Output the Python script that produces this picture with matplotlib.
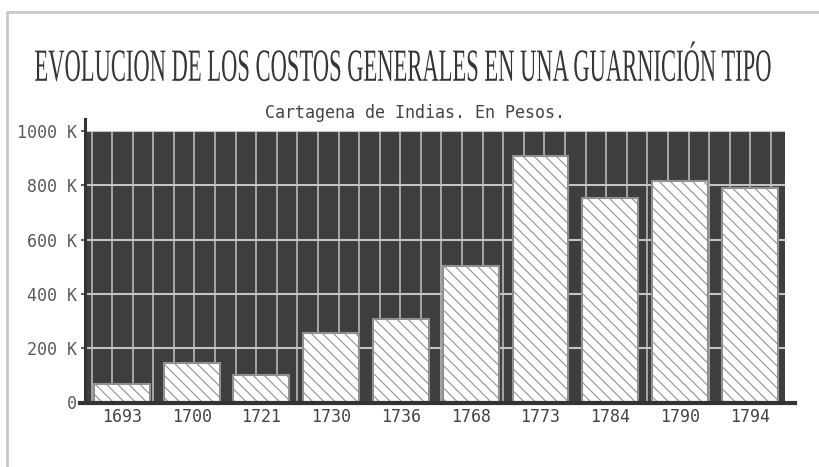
import numpy as np
import matplotlib
matplotlib.use("Agg")
import matplotlib.pyplot as plt
from matplotlib.lines import Line2D
from matplotlib.patheffects import AbstractPathEffect
from matplotlib.transforms import Affine2D

# Data (pesos, in thousands)
years = ["1693", "1700", "1721", "1730", "1736", "1768", "1773", "1784", "1790", "1794"]
costs = [68, 144, 101, 254, 305, 502, 908, 754, 815, 790]
yticks = [0, 200, 400, 600, 800, 1000]
ylabels = ["0", "200 K", "400 K", "600 K", "800 K", "1000 K"]

title = "EVOLUCION DE LOS COSTOS GENERALES EN UNA GUARNICIÓN TIPO"
subtitle = "Cartagena de Indias. En Pesos."


class Stretch(AbstractPathEffect):
    """scale text around a point (display pixels), to get the tall condensed look"""
    def __init__(self, sx, sy, cx, cy):
        super().__init__()
        self.sx, self.sy = sx, sy
        self.cx, self.cy = cx, cy

    def draw_path(self, renderer, gc, tpath, affine, rgbFace=None):
        t = (affine + Affine2D().translate(-self.cx, -self.cy)
             .scale(self.sx, self.sy).translate(self.cx, self.cy))
        renderer.draw_path(gc, tpath, t, rgbFace)


plt.rcParams["hatch.linewidth"] = 0.8
plt.rcParams["hatch.color"] = "#4a4a4a"

W, H = 820, 467
fig = plt.figure(figsize=(W / 100, H / 100), dpi=100)
ax = fig.add_axes([0.106, 0.139, 0.851, 0.58])
ax.set_facecolor("#3e3e3e")

x = np.arange(len(years))
ax.bar(x, costs, width=0.8, color="white", edgecolor="#909090",
       linewidth=1.5, hatch="\\\\\\", zorder=3)

ax.set_xlim(-0.5, len(years) - 0.5)
ax.set_ylim(0, 1000)

# grid: vertical white lines every ~20 px, horizontal every 200 K
for gx in np.arange(-0.434, len(years) - 0.5, 0.295):
    ax.axvline(gx, color="#b0b0b0", lw=1.3, zorder=1)
for gy in yticks[1:]:
    ax.axhline(gy, color="#c4c4c4", lw=1.5, zorder=2)

for s in ax.spines.values():
    s.set_visible(False)

ax.set_yticks(yticks)
ax.set_yticklabels(ylabels)
ax.set_xticks(x)
ax.set_xticklabels(years)
ax.tick_params(axis="y", length=4, width=1.2, color="#444444", pad=3,
               labelsize=12, labelcolor="#5a5a5a")
ax.tick_params(axis="x", length=0, pad=4, labelsize=12, labelcolor="#444444")
for lab in ax.get_xticklabels() + ax.get_yticklabels():
    lab.set_family("DejaVu Sans Mono")

# axis lines like the original
ax.add_line(Line2D([-0.003, -0.003], [0, 1.045], transform=ax.transAxes,
                   color="#333333", lw=2.2, clip_on=False, zorder=5))
ax.add_line(Line2D([-0.01, 1.015], [-0.005, -0.005], transform=ax.transAxes,
                   color="#333333", lw=3, clip_on=False, zorder=5))

# titles
tx, ty = 0.492, 0.85
fig.text(tx, ty, title, ha="center", va="center", fontsize=17,
         family="Liberation Serif", color="#353535",
         path_effects=[Stretch(0.955, 1.95, tx * W, ty * H)])
fig.text(0.506, 0.757, subtitle, ha="center", va="center", fontsize=12,
         family="DejaVu Sans Mono", color="#444444")

# scanned page border
fig.add_artist(Line2D([0.008, 0.008, 1.0], [0.0, 0.975, 0.975],
                      transform=fig.transFigure, color="#c8c8c8", lw=2))

fig.savefig("out.png", dpi=100)
